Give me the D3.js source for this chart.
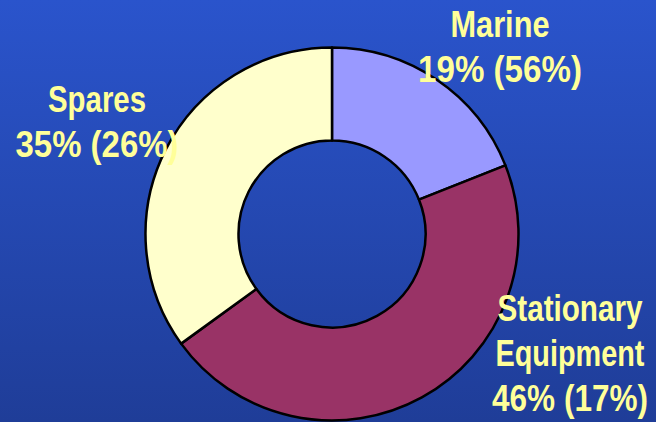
<!DOCTYPE html>
<html>
<head>
<meta charset="utf-8">
<script src="https://cdn.jsdelivr.net/npm/d3@7"></script>
<style>
  html, body { margin: 0; padding: 0; background: #2548b8; }
  svg { display: block; }
</style>
</head>
<body>
<script>
// ---- data ----
const categories = ["Marine", "Stationary Equipment", "Spares"];
const shares = [19, 46, 35];
const secondary = [56, 17, 26];
const labelLines = [
  ["Marine", "19% (56%)"],
  ["Stationary", "Equipment", "46% (17%)"],
  ["Spares", "35% (26%)"]
];
const colors = ["#9999ff", "#993366", "#ffffcc"];

// ---- layout ----
const W = 656, H = 422;
const cx = 332, cy = 234, rOuter = 186.5, rInner = 93.5;

const svg = d3.select("body").append("svg").attr("width", W).attr("height", H);

const defs = svg.append("defs");
const grad = defs.append("linearGradient").attr("id", "bg")
  .attr("x1", 0).attr("y1", 0).attr("x2", 0).attr("y2", 1);
grad.append("stop").attr("offset", "0%").attr("stop-color", "#2a54cc");
grad.append("stop").attr("offset", "100%").attr("stop-color", "#1f3d98");
svg.append("rect").attr("width", W).attr("height", H).attr("fill", "url(#bg)");

const pie = d3.pie().sort(null).value(d => d.v);
const data = categories.map((c, i) => ({ c, v: shares[i], s: secondary[i], i }));
const arcs = pie(data);
const arc = d3.arc().innerRadius(rInner).outerRadius(rOuter);

const g = svg.append("g").attr("transform", `translate(${cx},${cy})`);
g.selectAll("path").data(arcs).join("path")
  .attr("d", arc)
  .attr("fill", d => colors[d.data.i])
  .attr("stroke", "#000")
  .attr("stroke-width", 2.5)
  .attr("stroke-linejoin", "round");

// label placement (anchor centre x, first baseline, target widths)
const labelPos = [
  { x: 500, y: 37, widths: [99, 164] },
  { x: 570, y: 321, widths: [145, 149, 156] },
  { x: 97, y: 112, widths: [98, 163] }
];
const lineGap = 45;

const labels = svg.append("g")
  .attr("font-family", "'Liberation Sans Narrow', 'Arial Narrow', 'Liberation Sans', Arial, sans-serif")
  .attr("font-weight", "bold")
  .attr("font-size", 37)
  .attr("fill", "#ffff99")
  .attr("text-anchor", "middle");

labelLines.forEach((lines, i) => {
  const p = labelPos[i];
  lines.forEach((t, j) => {
    const y = p.y + j * lineGap;
    const grp = labels.append("g");
    const txt = grp.append("text").attr("x", 0).attr("y", 0).text(t);
    const natural = txt.node().getComputedTextLength() || p.widths[j];
    const sx = p.widths[j] / natural;
    grp.attr("transform", `translate(${p.x},${y}) scale(${sx},1)`);
  });
});
</script>
</body>
</html>
